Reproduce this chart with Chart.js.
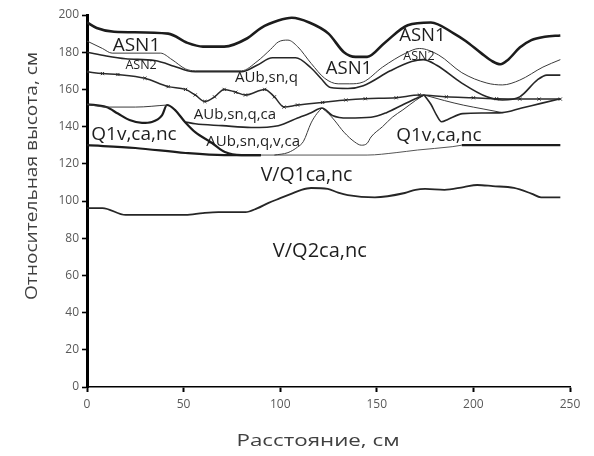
<!DOCTYPE html>
<html>
<head>
<meta charset="utf-8">
<script src="https://cdn.jsdelivr.net/npm/chart.js@4.4.1/dist/chart.umd.min.js"></script>
<style>
  html, body { margin: 0; padding: 0; background: #fff; }
  #wrap { width: 594px; height: 456px; position: relative; }
</style>
</head>
<body>
<div id="wrap"><canvas id="profile-chart"></canvas></div>
<script>
// Axis extents / ticks
const X_MIN = 0, X_MAX = 250, X_STEP = 50;
const Y_MIN = 0, Y_MAX = 200, Y_STEP = 20;
const X_TITLE = "Расстояние, см";
const Y_TITLE = "Относительная высота, см";

// Layer boundaries, [distance, height] pairs
const asn1Top = [[0,196],[5,193],[14,191],[42,190],[52,185],[60,183],[71,183],[83,187.5],[90,193],[99,197],[106,198.5],[115,196],[125,190],[133,180],[139,177.5],[145,177.5],[154,185],[166,194.5],[178,196],[190,190],[196,186],[204,179.5],[210,175],[214,173.5],[218,176],[224,182.5],[230,186.5],[237,188.3],[245,189]];
const asn2Top = [[0,186],[8,182],[13,179.5],[38,179.5],[44,176],[51,171],[56,170],[80,170],[88,175],[95,181.5],[99,185.5],[104,186.5],[109,183],[116,174],[123,166],[130,163],[136,163],[143,164],[153,172],[165,179.5],[172,182],[182,178.5],[194,169],[207,163.4],[215,162.4],[224,165],[236,172],[245,176]];
const asn2Base = [[0,180],[10,178],[20,176.5],[35,175.5],[45,172.5],[52,170],[56,169.5],[80,169.5],[88,173],[96,177],[108,177],[116,171.5],[121,166],[126,161],[135,160.5],[143,162],[157,170],[168,175],[174,176],[181,173],[194,163.4],[207,156],[215,154.3],[224,156],[233,165],[238,167.7],[245,167.7]];
const aubBase = [[0,169.5],[8,168.5],[16,168],[30,166],[42,161.5],[51,160],[56,157],[61,153.5],[66,156],[71,160],[77,158.5],[82,157],[92,160],[97,156],[102,150.5],[109,151.6],[122,153],[134,154.3],[144,155],[160,155.5],[172,157],[186,156],[200,155.5],[212,155],[224,154.8],[234,154.8],[245,154.8]];
const q1LensTop = [[0,152],[10,150.5],[25,150.5],[41.4,151.6]];
const q1LensBase = [[0,152],[10,150.5],[16,147],[22,143.5],[28.5,142],[33.6,142.5],[38.8,146],[41.4,151.6],[45.5,149],[50.7,142.5],[56,137],[64.7,131.2],[71.4,126.3],[80,124.7],[90,124.7]];
const aubCaBase = [[51,142.5],[56,141.5],[70,140.5],[85,139.5],[99,140.5],[109,144.6],[116,147.5],[121.6,150],[127,146],[135,144.6],[147,145],[155,147.5],[163,151.5],[170,155],[174.5,157]];
const vcaRight = [[97,124.7],[104,126],[109,129],[112,132],[116,142],[119,147],[121.6,150]];
const q1Dip = [[121.6,150],[125,147],[128,143.5],[133,137],[138.6,131.7],[142,130],[145,131],[147,134.4],[153,140],[158,145],[163.5,149],[170,154],[174.5,157]];
const q1RightTop = [[174.5,157],[178,152],[181,146],[183.5,142.6],[187,144],[194.5,147],[205,147.3],[215,147.5],[225,150],[235,152.5],[245,155]];
const q1RightDiag = [[174.5,157],[185,154],[195,151.5],[205,149.5],[215,147.5]];
const q1BaseLeft = [[0,130],[25,128.5],[51,125.8],[71,124.7],[90,124.7]];
const q1BaseMid = [[90,124.7],[145,124.7],[160,126],[171,127.4],[189,129.2],[194,130]];
const q1BaseRight = [[194,130],[245,130]];
const vq1Base = [[0,96.2],[8,96.2],[20,92.5],[51,92.5],[60,93.5],[68,94],[82,94],[88,96],[94,99],[100,101.5],[106,104],[111,106],[116,107],[124.6,106.5],[130,104.5],[135,103.2],[149,102],[164.5,104.3],[170,106],[175,106.5],[185,106],[195,107.5],[202,108.6],[210,108],[221,107],[230,104],[235,102],[245,102]];

// Layer names and where they sit (data coordinates)
const layerNames = ["ASN1", "ASN2", "AUb,sn,q", "AUb,sn,q,ca", "AUb,sn,q,v,ca", "Q1v,ca,nc", "ASN1", "ASN1", "ASN2", "Q1v,ca,nc", "V/Q1ca,nc", "V/Q2ca,nc"];
const layerX = [25.6, 28, 92.9, 76.6, 86, 24.3, 135.6, 173.6, 171.8, 182.1, 113.6, 120.5];
const layerY = [183.3, 172.8, 166.4, 146.2, 131.9, 135.5, 171.3, 188.8, 177.6, 135.1, 113.5, 72.8];

// Styles (kept apart from the data)
const LABEL_SIZES = [19, 12.5, 15, 15, 15, 19, 18.5, 18.5, 12.5, 19, 19.5, 20];
const LINES = [
    { data: asn1Top,     width: 2.6, color: "#1c1c1c" },
    { data: asn2Top,     width: 1,   color: "#3a3a3a" },
    { data: asn2Base,    width: 1.6, color: "#262626" },
    { data: aubBase,     width: 1.5, color: "#2a2a2a", marks: true },
    { data: q1LensTop,   width: 1,   color: "#3a3a3a" },
    { data: q1LensBase,  width: 2.2, color: "#1c1c1c" },
    { data: aubCaBase,   width: 1.6, color: "#262626" },
    { data: vcaRight,    width: 1,   color: "#3a3a3a" },
    { data: q1Dip,       width: 1,   color: "#3a3a3a" },
    { data: q1RightTop,  width: 1.6, color: "#262626" },
    { data: q1RightDiag, width: 1,   color: "#3a3a3a" },
    { data: q1BaseLeft,  width: 2.2, color: "#1c1c1c" },
    { data: q1BaseMid,   width: 1,   color: "#555555" },
    { data: q1BaseRight, width: 2.2, color: "#1c1c1c" },
    { data: vq1Base,     width: 1.8, color: "#262626" },
];

const layerLabelPlugin = {
    id: "layerLabels",
    afterDatasetsDraw(chart) {
        const { ctx, scales: { x, y } } = chart;
        ctx.save();
        ctx.fillStyle = "#1e1e1e";
        ctx.textAlign = "center";
        ctx.textBaseline = "middle";
        layerNames.forEach((name, i) => {
            ctx.font = LABEL_SIZES[i] + 'px "Open Sans"';
            ctx.fillText(name, x.getPixelForValue(layerX[i]), y.getPixelForValue(layerY[i]));
        });
        ctx.restore();
    },
};

// Axis titles drawn by hand: the original ones are stretched wide
const axisTitlePlugin = {
    id: "axisTitles",
    afterDraw(chart) {
        const ctx = chart.ctx;
        ctx.save();
        ctx.fillStyle = "#404040";
        ctx.font = '17px "Open Sans"';
        ctx.textAlign = "center";
        ctx.textBaseline = "middle";
        let sx = 163 / ctx.measureText(X_TITLE).width;
        ctx.save();
        ctx.translate(318, 441);
        ctx.scale(sx, 1);
        ctx.fillText(X_TITLE, 0, 0);
        ctx.restore();
        let sy = 248 / ctx.measureText(Y_TITLE).width;
        ctx.translate(32, 176);
        ctx.rotate(-Math.PI / 2);
        ctx.scale(sy, 1);
        ctx.fillText(Y_TITLE, 0, 0);
        ctx.restore();
    },
};

function renderProfileChart() {
    const canvas = document.getElementById("profile-chart");
    new Chart(canvas, {
        type: "line",
        data: {
            datasets: LINES.map(l => ({
                data: l.data.map(p => ({ x: p[0], y: p[1] })),
                borderColor: l.color,
                borderWidth: l.width,
                pointRadius: l.marks ? 2.2 : 0,
                pointStyle: "crossRot",
                pointBorderColor: l.color,
                pointBorderWidth: 1,
                cubicInterpolationMode: "monotone",
                fill: false,
            })),
        },
        options: {
            responsive: true,
            maintainAspectRatio: false,
            devicePixelRatio: 1,
            animation: false,
            layout: { padding: { left: 0, right: 24, top: 15, bottom: 0 } },
            plugins: {
                legend: { display: false },
                tooltip: { enabled: false },
            },
            scales: {
                x: {
                    type: "linear",
                    min: X_MIN,
                    max: X_MAX,
                    afterFit: s => { s.height = 69; },
                    ticks: {
                        stepSize: X_STEP,
                        color: "#595959",
                        font: { family: "Open Sans", size: 12 },
                        padding: 5,
                        maxRotation: 0,
                    },
                    grid: {
                        drawOnChartArea: false,
                        drawTicks: true,
                        tickLength: 5,
                        tickColor: "#000",
                        tickWidth: 2,
                    },
                    border: { color: "#000", width: 1.6 },
                },
                y: {
                    min: Y_MIN,
                    max: Y_MAX,
                    afterFit: s => { s.width = 87; },
                    ticks: {
                        stepSize: Y_STEP,
                        color: "#595959",
                        font: { family: "Open Sans", size: 12 },
                        padding: 3,
                    },
                    grid: {
                        drawOnChartArea: false,
                        drawTicks: true,
                        tickLength: 5,
                        tickColor: "#000",
                        tickWidth: 1.6,
                    },
                    border: { color: "#000", width: 3 },
                },
            },
        },
        plugins: [layerLabelPlugin, axisTitlePlugin],
    });
}

renderProfileChart();
</script>
</body>
</html>
